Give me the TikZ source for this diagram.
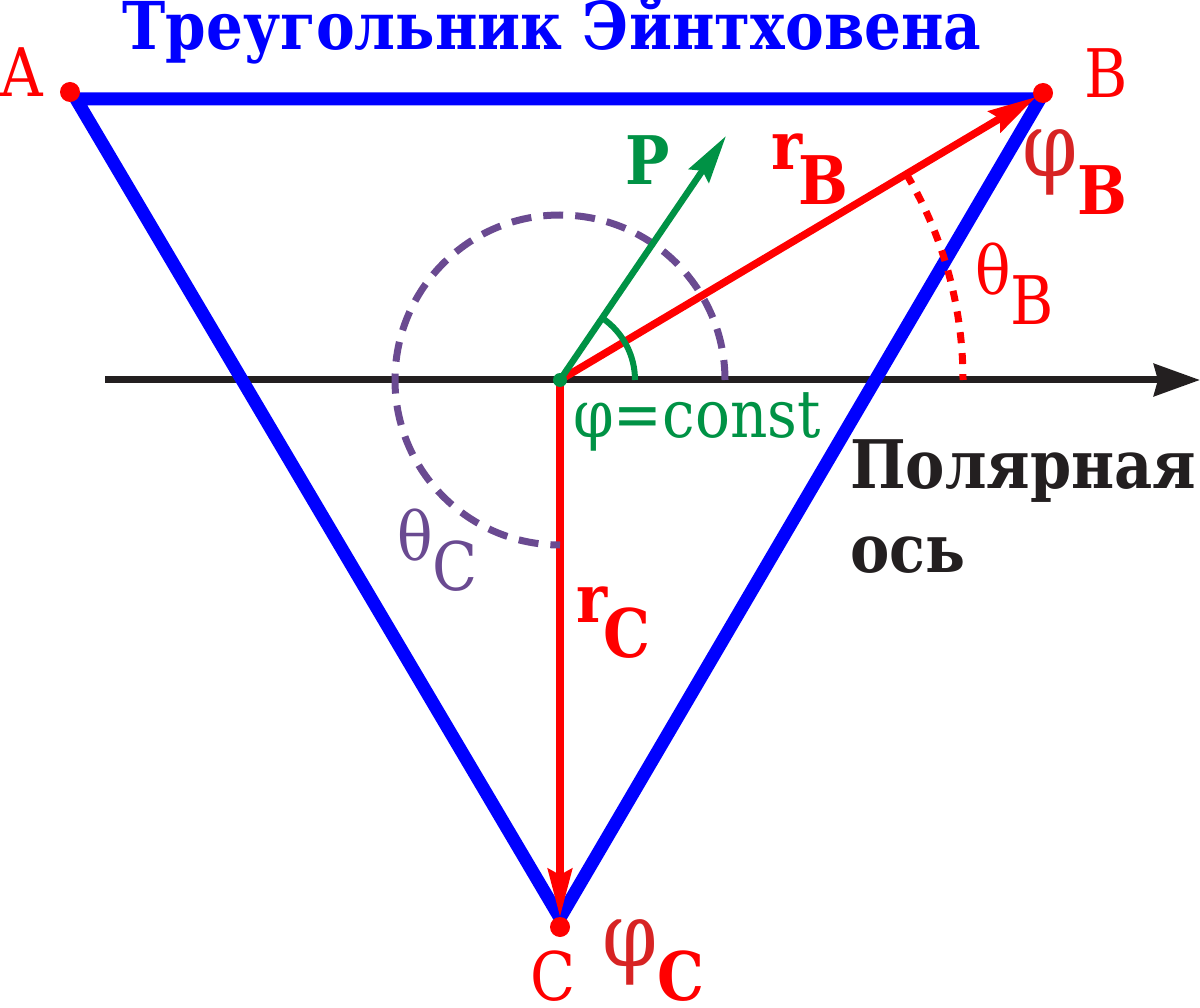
\documentclass[tikz,border=0pt]{standalone}
\usepackage{fontspec}
\setmainfont{DejaVu Serif}[FakeStretch=0.88]
\newfontfamily\timesrm{DejaVu Serif}[FakeStretch=0.88]
\usetikzlibrary{arrows.meta}
\definecolor{triblue}{RGB}{0,0,255}
\definecolor{vecred}{RGB}{255,0,0}
\definecolor{pgreen}{RGB}{0,146,69}
\definecolor{thpurple}{RGB}{106,74,145}
\definecolor{phired}{RGB}{215,35,35}
\definecolor{axisblack}{RGB}{35,31,32}
\newcommand{\fsz}[1]{\timesrm\fontsize{#1}{#1}\selectfont}
\newcommand{\lowered}[2]{\raisebox{-#1pt}{#2}}

\begin{document}
\begin{tikzpicture}[x=1pt,y=1pt]
  \tikzstyle{every node}+=[inner sep=0pt,anchor=base west]
  \tikzset{
    side/.style={triblue,line width=13pt,line join=round},
    vec/.style={vecred,line width=7.5pt,-{Stealth[length=48pt,width=24pt,inset=6pt]}},
    pvec/.style={pgreen,line width=6.5pt,-{Stealth[length=48pt,width=24pt,inset=6pt]}},
    lbl/.style={font=\fsz{67}},
    blbl/.style={font=\fsz{67}\bfseries}
  }
  \useasboundingbox (0,0) rectangle (1200,-1008);
  % points
  \coordinate (A) at (76,-99);
  \coordinate (B) at (1040,-99);
  \coordinate (C) at (560,-918);
  \coordinate (O) at (560,-380);
  \coordinate (axisL) at (105,-380);
  \coordinate (axisR) at (1200,-380);
  \coordinate (tipB) at (1036,-97);
  \coordinate (tipC) at (560,-917);
  \coordinate (tipP) at (726,-136);
  % polar axis
  \draw [axisblack,line width=7pt,-{Stealth[length=46pt,width=32pt,inset=4pt]}] (axisL) -- (axisR);
  % triangle
  \draw [side] (A) -- (B) -- (C) -- cycle;
  % vectors r_B, r_C
  \draw [vec] (O) -- (tipB);
  \draw [vec] (O) -- (tipC);
  % angles
  \draw [thpurple,line width=7pt,dash pattern=on 20pt off 12pt] ([shift={(0:165)}]O) arc (0:270:165);
  \draw [vecred,line width=7pt,dash pattern=on 11pt off 10pt] ([shift={(30.7:403)}]O) arc (30.7:0:403);
  \draw [pgreen,line width=6pt] ([shift={(0:75)}]O) arc (0:55:75);
  % vector P
  \draw [pvec] (O) -- (tipP);
  \fill [pgreen] (O) circle (7);
  \fill [vecred] (70,-92) circle (10);
  \fill [vecred] (1043,-93) circle (10);
  \fill [vecred] (560,-927) circle (10);
  % labels
  \node [triblue,font=\fsz{66}\bfseries,anchor=base] (title) at (552,-50) {Треугольник Эйнтховена};
  \node [lbl,vecred] (labA) at (0,-97) {A};
  \node [lbl,vecred] (labB) at (1084,-98) {B};
  \node [lbl,vecred] (labC) at (530,-1000) {C};
  \node [blbl,pgreen] (labP) at (625,-185) {P};
  \node [blbl,vecred] (labrB) at (771,-170) {r\kern-4pt\lowered{35}{B}};
  \node [blbl,vecred] (labrC) at (576,-622) {r\kern-4pt\lowered{35}{C}};
  \node [lbl,vecred] (labthB) at (975,-295) {θ\lowered{30}{B}};
  \node [lbl,thpurple] (labthC) at (397,-560) {θ\lowered{30}{C}};
  \node [lbl,vecred] (labphiB) at (1022,-177) {{\color{phired}\fsz{90}φ}\lowered{38}{\bfseries B}};
  \node [lbl,vecred] (labphiC) at (602,-966) {{\color{phired}\fsz{90}φ}\lowered{34}{\bfseries C}};
  \node [lbl,pgreen,font=\fsz{66}] (labconst) at (573,-437) {φ=const};
  \node [blbl,axisblack] (labaxis1) at (850,-488) {Полярная};
  \node [blbl,axisblack] (labaxis2) at (850,-572) {ось};
\end{tikzpicture}
\end{document}
